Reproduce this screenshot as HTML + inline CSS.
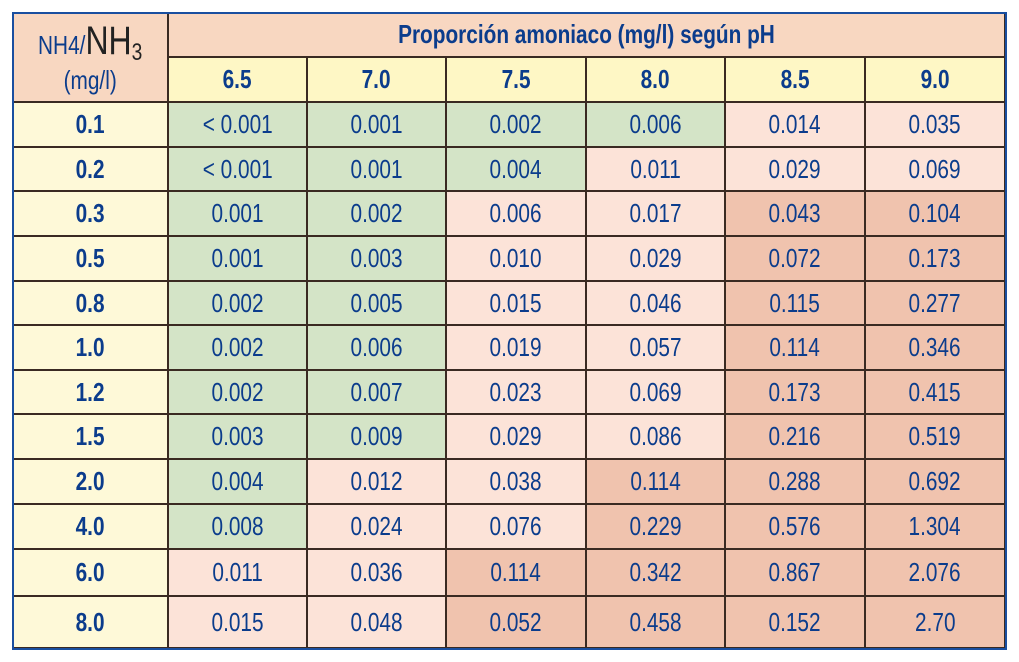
<!DOCTYPE html>
<html><head><meta charset="utf-8"><style>
body{margin:0;width:1019px;height:662px;background:#fff;position:relative;overflow:hidden;font-family:"Liberation Sans Narrow","Liberation Sans",sans-serif;color:#0b3c8c}
.c{position:absolute;box-sizing:border-box;border-right:2px solid #3a2a22;border-bottom:2px solid #3a2a22;display:flex;align-items:center;justify-content:center;font-size:26px}
.c>span.t{display:inline-block;transform:scaleX(0.8);white-space:nowrap}
#frame{position:absolute;left:12px;top:12px;width:995px;height:638px;border:2px solid #1a4fa0;box-sizing:border-box;pointer-events:none}
.g{background:#d4e4c7}.l{background:#fce3d8}.d{background:#f0c3ae}.y{background:#fef9d8}.hy{background:#fef7c5}.hp{background:#f8d7c1}
.b{font-weight:bold}
</style></head><body>
<div id="tbl"></div>
<div id="frame"></div>
<script>
const phLabels=["6.5","7.0","7.5","8.0","8.5","9.0"];
const rowLabels=["0.1","0.2","0.3","0.5","0.8","1.0","1.2","1.5","2.0","4.0","6.0","8.0"];
const values=[
["< 0.001","0.001","0.002","0.006","0.014","0.035"],
["< 0.001","0.001","0.004","0.011","0.029","0.069"],
["0.001","0.002","0.006","0.017","0.043","0.104"],
["0.001","0.003","0.010","0.029","0.072","0.173"],
["0.002","0.005","0.015","0.046","0.115","0.277"],
["0.002","0.006","0.019","0.057","0.114","0.346"],
["0.002","0.007","0.023","0.069","0.173","0.415"],
["0.003","0.009","0.029","0.086","0.216","0.519"],
["0.004","0.012","0.038","0.114","0.288","0.692"],
["0.008","0.024","0.076","0.229","0.576","1.304"],
["0.011","0.036","0.114","0.342","0.867","2.076"],
["0.015","0.048","0.052","0.458","0.152","2.70"]];
const shades=["ggggll","gggllll".slice(0,6),"gglldd","gglldd","gglldd","gglldd","gglldd","gglldd","gllddd","gllddd","lldddd","lldddd"];
const colX=[13,169,308,447,587,726,866,1006];
const rowY=[103,148,192,237,282,326,371,415,460,505,550,597,649];
const T=document.getElementById('tbl');
function cell(x,y,w,h,cls,html,name){const d=document.createElement('div');d.className='c '+cls;d.style.left=x+'px';d.style.top=y+'px';d.style.width=w+'px';d.style.height=h+'px';d.innerHTML='<span class="t">'+html+'</span>';


T.appendChild(d);return d;}
cell(13,13,156,90,'hp','<div style="text-align:center;line-height:1.15;font-size:26px">NH4/<span style="font-size:40px;color:#222;font-family:\'Liberation Sans\',sans-serif">NH</span><sub style="font-size:24px;color:#222">3</sub><br>(mg/l)</div>','corner-header');
cell(169,13,837,45,'hp b','<span style="font-size:26px">Proporción amoniaco (mg/l) según pH</span>','group-header');
phLabels.forEach((p,i)=>cell(colX[i+1],58,colX[i+2]-colX[i+1],45,'hy b',p,'ph-header-'+p));
rowLabels.forEach((r,j)=>{
cell(13,rowY[j],156,rowY[j+1]-rowY[j],'y b',r,'row-label-'+r);
values[j].forEach((v,i)=>cell(colX[i+1],rowY[j],colX[i+2]-colX[i+1],rowY[j+1]-rowY[j],shades[j][i],v.replace('<','&lt;'),'cell-'+r+'-'+phLabels[i]));
});
</script>
</body></html>
